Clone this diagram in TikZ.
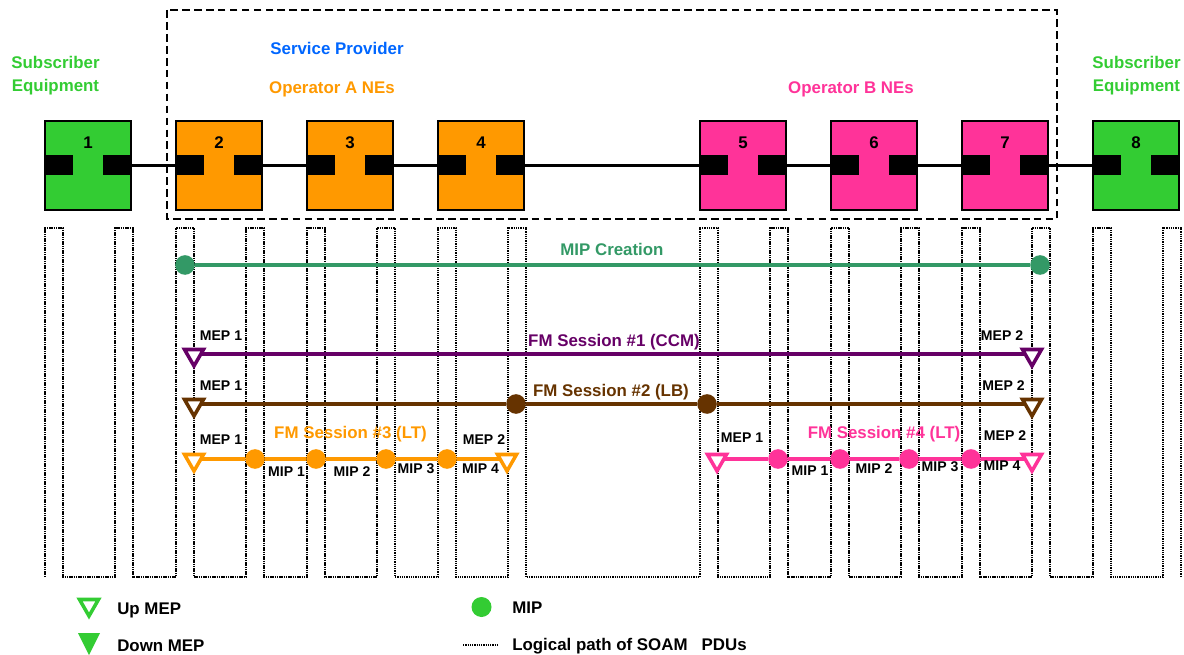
\documentclass[tikz,border=0pt]{standalone}
\usepackage{fontspec}
\setmainfont{Liberation Sans}
\usetikzlibrary{calc}

\definecolor{subGreen}{HTML}{33CC33}
\definecolor{opOrange}{HTML}{FF9900}
\definecolor{opPink}{HTML}{FF3399}
\definecolor{spBlue}{HTML}{0066FF}
\definecolor{mipGreen}{HTML}{339966}
\definecolor{ccmPurple}{HTML}{660066}
\definecolor{lbBrown}{HTML}{663300}

\tikzset{
  nebox/.style={draw=black, line width=2pt, minimum width=2.15cm, minimum height=2.22cm, inner sep=0pt},
  numlbl/.style={font=\fontsize{12}{14}\selectfont\bfseries, inner sep=0pt, anchor=base},
  hdr/.style={font=\fontsize{12}{16.7}\selectfont\bfseries, inner sep=0pt},
  small/.style={font=\fontsize{10}{12}\selectfont\bfseries, inner sep=0pt, anchor=base},
  lgtxt/.style={hdr, anchor=base west},
  link/.style={draw=black, line width=1.8pt},
  spframe/.style={draw=black, line width=2pt, dash pattern=on 5.5pt off 3pt},
  logical/.style={draw=black, line width=1.4pt, dash pattern=on 1pt off 0.6pt},
  sess/.style={line width=2.5pt},
  mipdot/.style={circle, minimum size=0.49cm, inner sep=0pt, draw=none},
  pics/upmep/.style={code={\draw[draw=#1, fill=white, line width=2.5pt] (-9.5,-4.5) -- (9.5,-4.5) -- (0,12) -- cycle;}},
  pics/downmep/.style={code={\fill[#1] (-11,-11) -- (11,-11) -- (0,11) -- cycle;}}
}

\begin{document}
\begin{tikzpicture}[x=0.025cm, y=-0.025cm]
  \useasboundingbox (0,0) rectangle (1184,655);

  % logical path of SOAM PDUs: square wave under the ports
  \draw[logical] (45,577)
    foreach \a in {45,115,176,246,307,377,438,508,700,770,831,901,962,1032,1093,1163}
    { -- (\a,577) -- (\a,228) -- ({\a+18},228) -- ({\a+18},577) };

  % service provider frame
  \draw[spframe] (167,10) rectangle (1057,219);

  % network elements 1..8
  \foreach \nr/\k/\col in {1/0/subGreen,2/1/opOrange,3/2/opOrange,4/3/opOrange,5/5/opPink,6/6/opPink,7/7/opPink,8/8/subGreen} {
    \node[nebox, fill=\col] (ne\nr) at ({88+131*\k},165.5) {};
    \node[numlbl] (num\nr) at ({88+131*\k},149) {\nr};
    \fill (ne\nr.west) ++(0,-10) rectangle ++(29,20);
    \fill (ne\nr.east) ++(0,-10) rectangle ++(-29,20);
  }
  \foreach \a/\b in {1/2,2/3,3/4,4/5,5/6,6/7,7/8}
    \draw[link] (ne\a) -- (ne\b);

  % headings
  \node[hdr, text=subGreen, align=center] (subL) at (55.5,75.4) {Subscriber\\Equipment};
  \node[hdr, text=subGreen, align=center] (subR) at (1136.5,75.4) {Subscriber\\Equipment};
  \node[hdr, text=spBlue, anchor=base] (spLbl) at (337,55) {Service Provider};
  \node[hdr, text=opOrange, anchor=base] (opA) at (332,94) {Operator A NEs};
  \node[hdr, text=opPink, anchor=base] (opB) at (851,94) {Operator B NEs};

  % MIP creation
  \node[mipdot, fill=mipGreen] (mc1) at (185,265) {};
  \node[mipdot, fill=mipGreen] (mc2) at (1040,265) {};
  \draw[sess, mipGreen, line width=2.2pt] (mc1) -- (mc2);
  \node[hdr, text=mipGreen, anchor=base] (mcLbl) at (612,255.5) {MIP Creation};

  % FM session 1 (CCM)
  \coordinate (s1a) at (194,354);
  \coordinate (s1b) at (1032,354);
  \draw[sess, ccmPurple] (s1a) -- (s1b);
  \pic at (s1a) {upmep=ccmPurple};
  \pic at (s1b) {upmep=ccmPurple};
  \node[hdr, text=ccmPurple, anchor=base] (s1Lbl) at (614,346.5) {FM Session \#1 (CCM)};
  \node[small] (s1e1) at (221,340.7) {MEP 1};
  \node[small] (s1e2) at (1002,340.7) {MEP 2};

  % FM session 2 (LB)
  \coordinate (s2a) at (194,404);
  \coordinate (s2b) at (1032,404);
  \node[mipdot, fill=lbBrown] (s2p1) at (516,404) {};
  \node[mipdot, fill=lbBrown] (s2p2) at (707,404) {};
  \draw[sess, lbBrown] (s2a) -- (s2p1) -- (s2p2) -- (s2b);
  \pic at (s2a) {upmep=lbBrown};
  \pic at (s2b) {upmep=lbBrown};
  \node[hdr, text=lbBrown, anchor=base] (s2Lbl) at (611,396.7) {FM Session \#2 (LB)};
  \node[small] (s2e1) at (221,390.7) {MEP 1};
  \node[small] (s2e2) at (1003.5,390.7) {MEP 2};

  % FM session 3 (LT), operator A
  \coordinate (s3a) at (194,459);
  \coordinate (s3b) at (507,459);
  \foreach \k/\x in {1/255,2/316,3/386,4/447}
    \node[mipdot, fill=opOrange] (s3p\k) at (\x,459) {};
  \draw[sess, opOrange] (s3a) -- (s3p1) -- (s3p2) -- (s3p3) -- (s3p4) -- (s3b);
  \pic at (s3a) {upmep=opOrange};
  \pic at (s3b) {upmep=opOrange};
  \node[hdr, text=opOrange, anchor=base] (s3Lbl) at (350.5,439) {FM Session \#3 (LT)};
  \node[small] (s3e1) at (221,445) {MEP 1};
  \node[small] (s3e2) at (484,444) {MEP 2};
  \foreach \k/\x/\y in {1/286.5/476.7,2/352/476.7,3/416/474,4/480.5/474}
    \node[small] (s3q\k) at (\x,\y) {MIP \k};

  % FM session 4 (LT), operator B
  \coordinate (s4a) at (717,459);
  \coordinate (s4b) at (1032,459);
  \foreach \k/\x in {1/778,2/840,3/909,4/971}
    \node[mipdot, fill=opPink] (s4p\k) at (\x,459) {};
  \draw[sess, opPink] (s4a) -- (s4p1) -- (s4p2) -- (s4p3) -- (s4p4) -- (s4b);
  \pic at (s4a) {upmep=opPink};
  \pic at (s4b) {upmep=opPink};
  \node[hdr, text=opPink, anchor=base] (s4Lbl) at (884,439) {FM Session \#4 (LT)};
  \node[small] (s4e1) at (742,442.7) {MEP 1};
  \node[small] (s4e2) at (1005,440.7) {MEP 2};
  \foreach \k/\x/\y in {1/810/475,2/874/474,3/940/471.7,4/1002/470.7}
    \node[small] (s4q\k) at (\x,\y) {MIP \k};

  % legend
  \pic at (89,604) {upmep=subGreen};
  \pic at (89,644) {downmep=subGreen};
  \node[lgtxt] (lgUp) at (117,614) {Up MEP};
  \node[lgtxt] (lgDown) at (117,651) {Down MEP};
  \node[mipdot, fill=subGreen, minimum size=0.5cm] (lgMip) at (481.5,607) {};
  \node[lgtxt] (lgMipT) at (512,613) {MIP};
  \coordinate (lgA) at (463,645);
  \coordinate (lgB) at (498,645);
  \draw[logical] (lgA) -- (lgB);
  \node[lgtxt] (lgPath) at (512,650) {Logical path of SOAM~~~PDUs};
\end{tikzpicture}
\end{document}
